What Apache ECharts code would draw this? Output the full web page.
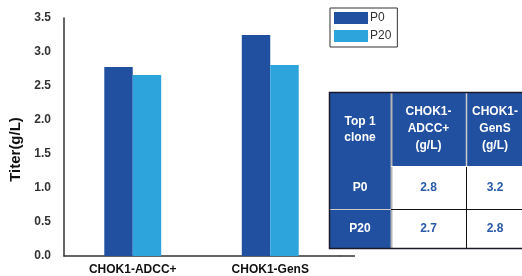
<!DOCTYPE html>
<html>
<head>
<meta charset="utf-8">
<script src="https://cdn.jsdelivr.net/npm/echarts@6/dist/echarts.min.js"></script>
<style>html,body{margin:0;padding:0;background:#fff}#c{width:522px;height:276px}</style>
</head>
<body>
<div id="c"></div>
<script>
var categories = ['CHOK1-ADCC+', 'CHOK1-GenS'];
var seriesNames = ['P0', 'P20'];
var p0Values = [2.78, 3.25];
var p20Values = [2.66, 2.81];
var yTicks = [0, 0.5, 1, 1.5, 2, 2.5, 3, 3.5];
var tableHeader = ['Top 1\nclone', 'CHOK1-\nADCC+\n(g/L)', 'CHOK1-\nGenS\n(g/L)'];
var tableRowLabels = ['P0', 'P20'];
var tableP0 = ['2.8', '3.2'];
var tableP20 = ['2.7', '2.8'];

var FONT = '"Liberation Sans", Arial, sans-serif';
var DARK = '#2150A0';
var LIGHT = '#2EA4DC';

var chart = echarts.init(document.getElementById('c'), null, {renderer: 'canvas'});

var colX = [329, 391, 466, 524];
var rowY = [92, 166, 209, 248];
var tableRows = [tableP0, tableP20];
var g = [];
for (var r = 0; r < 3; r++) {
  for (var c = 0; c < 3; c++) {
    var isBlue = (r === 0 || c === 0);
    g.push({type: 'rect', shape: {x: colX[c], y: rowY[r], width: colX[c+1]-colX[c], height: rowY[r+1]-rowY[r]},
      style: {fill: isBlue ? DARK : '#fff'}, z: 10});
    var txt = r === 0 ? tableHeader[c] : (c === 0 ? tableRowLabels[r-1] : String(tableRows[r-1][c-1]));
    g.push({type: 'text', x: (colX[c]+colX[c+1])/2, y: (rowY[r]+rowY[r+1])/2 + (r === 0 && c === 0 ? 1 : 0), z: 12,
      style: {text: txt, align: 'center', verticalAlign: 'middle', fill: isBlue ? '#fff' : '#2A5AA8',
        font: 'bold 12px ' + FONT, lineHeight: r === 0 ? (c === 0 ? 16 : 17) : 14}});
  }
}
function ln(x1,y1,x2,y2,col,w,z){ g.push({type:'line', shape:{x1:x1,y1:y1,x2:x2,y2:y2}, style:{stroke:col, lineWidth:w||1}, z: z || 13}); }
ln(colX[1]+0.5, rowY[0], colX[1]+0.5, rowY[3], '#b5b5b5', 2);
ln(colX[2]+0.5, rowY[0], colX[2]+0.5, rowY[1], '#cccccc', 1.5);
ln(colX[2]+0.5, rowY[1], colX[2]+0.5, rowY[3], '#111', 1);
ln(colX[0], rowY[2]+0.5, colX[1], rowY[2]+0.5, '#cccccc', 1);
ln(colX[1], rowY[2]+0.5, colX[3], rowY[2]+0.5, '#111', 1);
ln(colX[1], rowY[1]+0.5, colX[3], rowY[1]+0.5, '#ffffff', 1);
g.push({type:'rect', shape:{x: colX[0]+0.5, y: rowY[0]+0.5, width: colX[3]-colX[0], height: rowY[3]-rowY[0]},
  style:{fill:null, stroke:'#1a1a2a', lineWidth:1.5}, z: 14});

chart.setOption({
  animation: false,
  textStyle: {fontFamily: FONT},
  grid: {left: 64, right: 183, top: 18, bottom: 19, containLabel: false},
  legend: {
    orient: 'vertical', left: 330, top: 8, padding: [4, 6, 5, 4],
    itemWidth: 34, itemHeight: 12, itemGap: 6, icon: 'rect',
    borderColor: '#333', borderWidth: 1, selectedMode: false,
    textStyle: {fontSize: 12, color: '#333', fontFamily: FONT, padding: [0,0,0,-3]},
    data: seriesNames
  },
  xAxis: {
    type: 'category', data: categories,
    axisLine: {lineStyle: {color: '#333', width: 1.5}},
    axisTick: {show: false},
    axisLabel: {fontSize: 12, fontWeight: 'bold', color: '#111', margin: 8, fontFamily: FONT}
  },
  yAxis: {
    type: 'value', min: yTicks[0], max: yTicks[yTicks.length-1], interval: 0.5,
    name: 'Titer(g/L)', nameLocation: 'middle', nameGap: 41, nameRotate: 90,
    nameTextStyle: {fontSize: 15, fontWeight: 'bold', color: '#111', fontFamily: FONT, padding: [0, 25, 0, 0]},
    axisLine: {show: true, lineStyle: {color: '#333', width: 1.5}},
    axisTick: {show: false},
    splitLine: {show: false},
    axisLabel: {fontSize: 12, fontWeight: 'bold', color: '#333', margin: 13, fontFamily: FONT,
      formatter: function (v) { return v.toFixed(1); }}
  },
  series: [
    {name: seriesNames[0], type: 'bar', data: p0Values, barWidth: '20.7%', barGap: '0%', itemStyle: {color: DARK}},
    {name: seriesNames[1], type: 'bar', data: p20Values, barWidth: '20.7%', barGap: '0%', itemStyle: {color: LIGHT}}
  ],
  graphic: g
});
var y0 = chart.convertToPixel({yAxisIndex: 0}, 0);
var rect = chart.getModel().getComponent('grid', 0).coordinateSystem.getRect();
g.push({type:'line', shape:{x1: rect.x + rect.width, y1: y0, x2: rect.x + rect.width + 16, y2: y0}, style:{stroke:'#333', lineWidth:1.5}, z: 1});
chart.setOption({graphic: g});
</script>
</body>
</html>
